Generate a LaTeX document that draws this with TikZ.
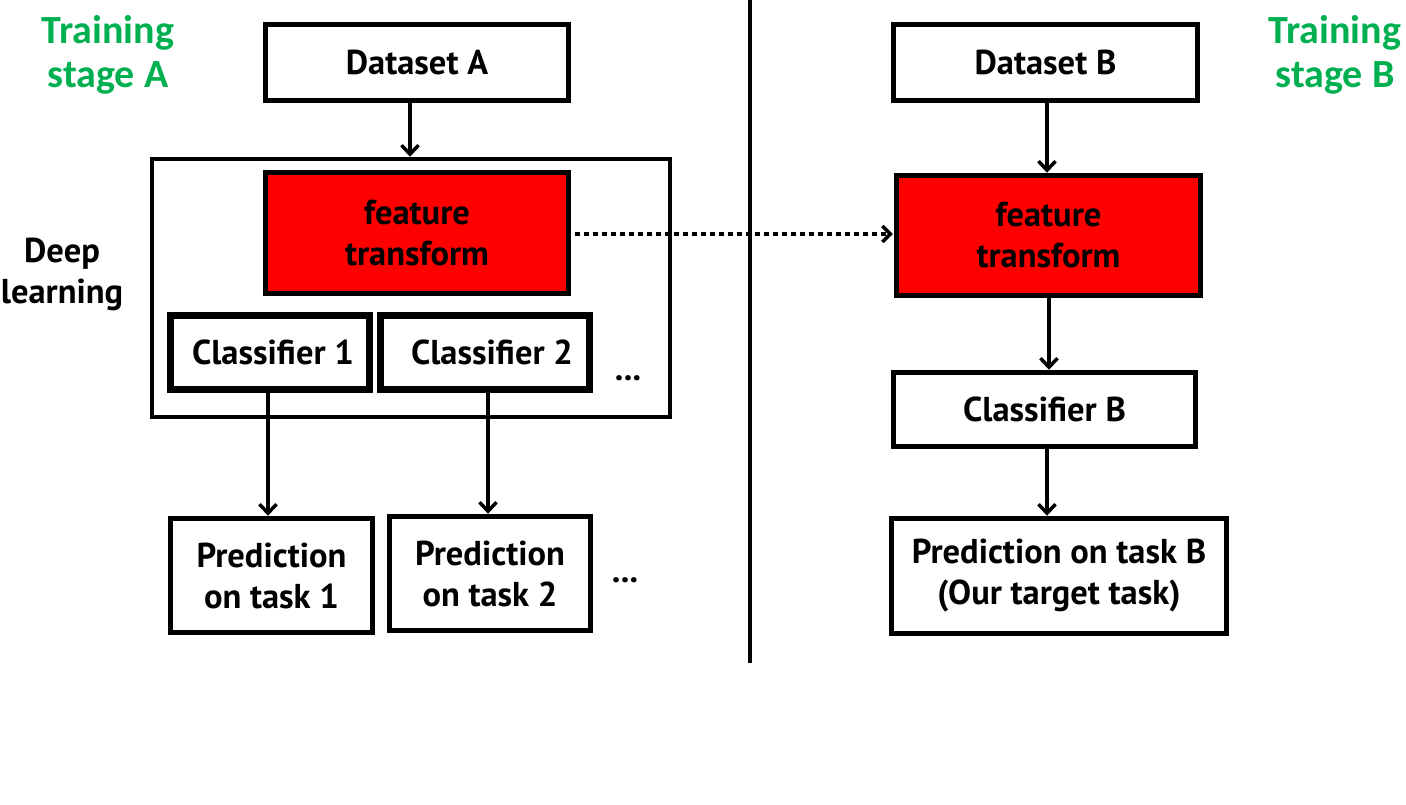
\documentclass[tikz,border=0pt]{standalone}
\usepackage{fontspec}
\setmainfont{PT Sans}
\newfontfamily\grnfont{Carlito}
\usetikzlibrary{arrows.meta}
\definecolor{stagegreen}{RGB}{0,176,80}
\definecolor{ftred}{RGB}{255,0,0}
\begin{document}
\begin{tikzpicture}[x=1pt,y=-1pt,
  txt/.style={font=\bfseries\fontsize{34.5}{41}\selectfont, align=center},
  box/.style={txt, draw, line width=5.5pt, inner sep=0pt},
  redbox/.style={box, fill=ftred},
  clsbox/.style={box, line width=6.5pt},
  outerbox/.style={draw, line width=4.5pt, inner sep=0pt},
  green/.style={font=\grnfont\bfseries\fontsize{40}{44}\selectfont, text=stagegreen, align=center},
  arr/.style={line width=3.5pt, -{Straight Barb[length=9pt,width=17pt,line width=3.5pt]}},
  dotarr/.style={line width=4pt, dash pattern=on 4.5pt off 4.5pt, -{Straight Barb[length=8pt,width=16pt,line width=3.5pt]}}]
\useasboundingbox (0,0) rectangle (1406,804);

% left side
\node[box, minimum width=303pt, minimum height=76pt] (dsA) at (417,62.5) {Dataset A};
\node[outerbox, minimum width=518pt, minimum height=258pt] (outer) at (411,288) {};
\node[redbox, minimum width=303pt, minimum height=121pt] (ftA) at (417,233) {feature\\transform};
\node[clsbox, minimum width=199pt, minimum height=74pt] (c1) at (270,352.5) {\hspace*{6pt}Classifier 1};
\node[clsbox, minimum width=209pt, minimum height=74pt] (c2) at (485,352.5) {\hspace*{14pt}Classifier 2};
\node[txt] (dots1) at (628,378) {...};
\node[box, minimum width=202pt, minimum height=114pt] (p1) at (271.5,575.5) {Prediction\\on task 1};
\node[box, minimum width=201pt, minimum height=114pt] (p2) at (490,573.5) {Prediction\\on task 2};
\node[txt] (dots2) at (625,580) {...};
\node[txt] (deep) at (62,274) {Deep\\learning};
\node[green] (stA) at (108,55) {Training\\stage A};

% divider
\coordinate (vtop) at (750,0);
\coordinate (vbot) at (750,663);
\draw[line width=3.5pt] (vtop) -- (vbot);

% right side
\node[box, minimum width=304pt, minimum height=76pt] (dsB) at (1045.5,62.5) {Dataset B};
\node[redbox, minimum width=304pt, minimum height=120pt] (ftB) at (1048.5,235.5) {feature\\transform};
\node[box, minimum width=302pt, minimum height=74pt] (cB) at (1044.5,409.5) {Classifier B};
\node[box, minimum width=335pt, minimum height=115pt] (pB) at (1059,576) {Prediction on task B\\(Our target task)};
\node[green] (stB) at (1335,55) {Training\\stage B};

% connectors
\draw[arr] (dsA.south -| 410,0) -- (outer.north -| 410,0);
\draw[arr] (c1.south -| 268,0) -- (p1.north -| 268,0);
\draw[arr] (c2.south -| 488,0) -- (p2.north -| 488,0);
\draw[dotarr] ([xshift=4pt]ftA.east |- 0,234) -- ([xshift=-1pt]ftB.west |- 0,234);
\draw[arr] (dsB.south -| 1047,0) -- (ftB.north -| 1047,0);
\draw[arr] (ftB.south -| 1049,0) -- (cB.north -| 1049,0);
\draw[arr] (cB.south -| 1047,0) -- (pB.north -| 1047,0);
\end{tikzpicture}
\end{document}
